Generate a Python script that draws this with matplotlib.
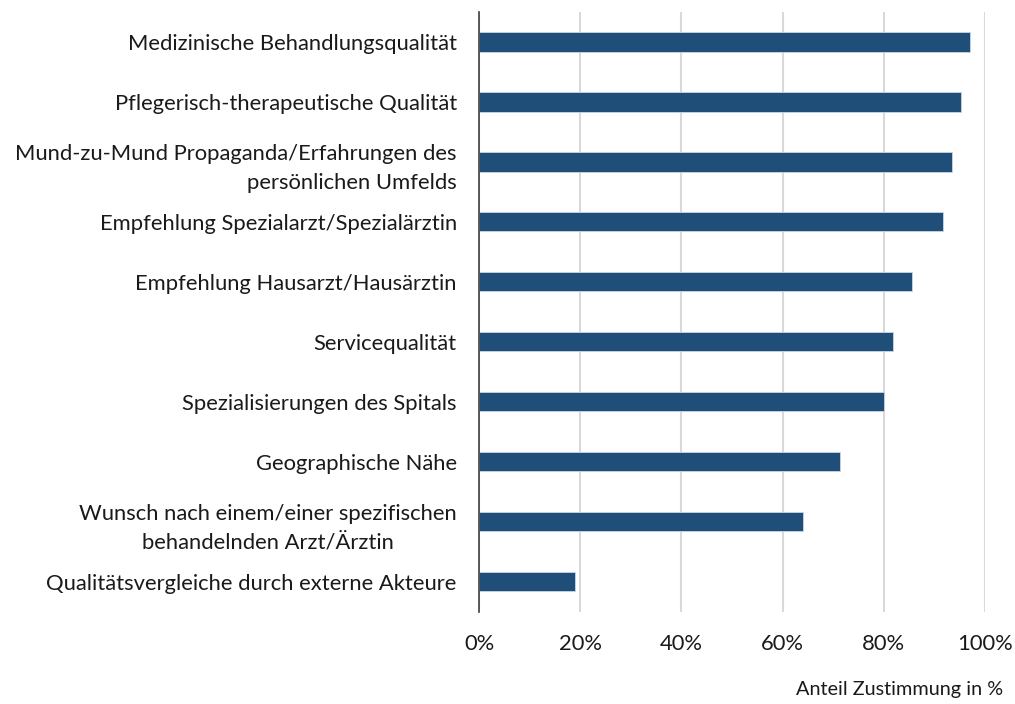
import matplotlib.pyplot as plt
import numpy as np

plt.rcParams['font.family'] = ['Lato', 'DejaVu Sans']

categories = [
    'Medizinische Behandlungsqualität',
    'Pflegerisch-therapeutische Qualität',
    'Mund-zu-Mund Propaganda/Erfahrungen des\npersönlichen Umfelds',
    'Empfehlung Spezialarzt/Spezialärztin',
    'Empfehlung Hausarzt/Hausärztin',
    'Servicequalität',
    'Spezialisierungen des Spitals',
    'Geographische Nähe',
    'Wunsch nach einem/einer spezifischen\nbehandelnden Arzt/Ärztin',
    'Qualitätsvergleiche durch externe Akteure',
]
values = [97.1, 95.3, 93.5, 91.7, 85.6, 81.9, 80.1, 71.4, 64.1, 19.0]
xticks = [0, 20, 40, 60, 80, 100]

fig = plt.figure(figsize=(10.15, 7.04), dpi=100)
ax = fig.add_axes([0.472, 0.131, 0.4985, 0.852])

y = np.arange(len(categories))
ax.barh(y, values, height=0.32, color='#1f4e79', edgecolor='#c9d6e3', linewidth=0.6, zorder=3)
ax.set_ylim(len(categories) - 0.5, -0.5)
ax.set_xlim(0, 100)

ax.set_xticks(xticks)
ax.set_xticklabels([f'{t}%' for t in xticks], fontsize=15.8, color='#1a1a1a')
ax.set_yticks(y)
ax.set_yticklabels(categories, fontsize=15.8, color='#1a1a1a', linespacing=1.55)
for lab, ma in zip(ax.get_yticklabels(), ['right'] * 8 + ['center', 'right']):
    lab.set_multialignment(ma)
ax.tick_params(axis='both', length=0)
ax.tick_params(axis='y', pad=16)
ax.tick_params(axis='x', pad=16)

ax.grid(axis='x', color='#d9d9d9', linewidth=1.5, zorder=0)
for s in ['top', 'right', 'bottom']:
    ax.spines[s].set_visible(False)
ax.spines['left'].set_color('#404040')
ax.spines['left'].set_linewidth(1.2)
ax.spines['left'].set_zorder(4)

fig.text(0.988, 0.008, 'Anteil Zustimmung in %', ha='right', va='bottom', fontsize=14.3, color='#1a1a1a')

fig.savefig('out.png', dpi=100)
